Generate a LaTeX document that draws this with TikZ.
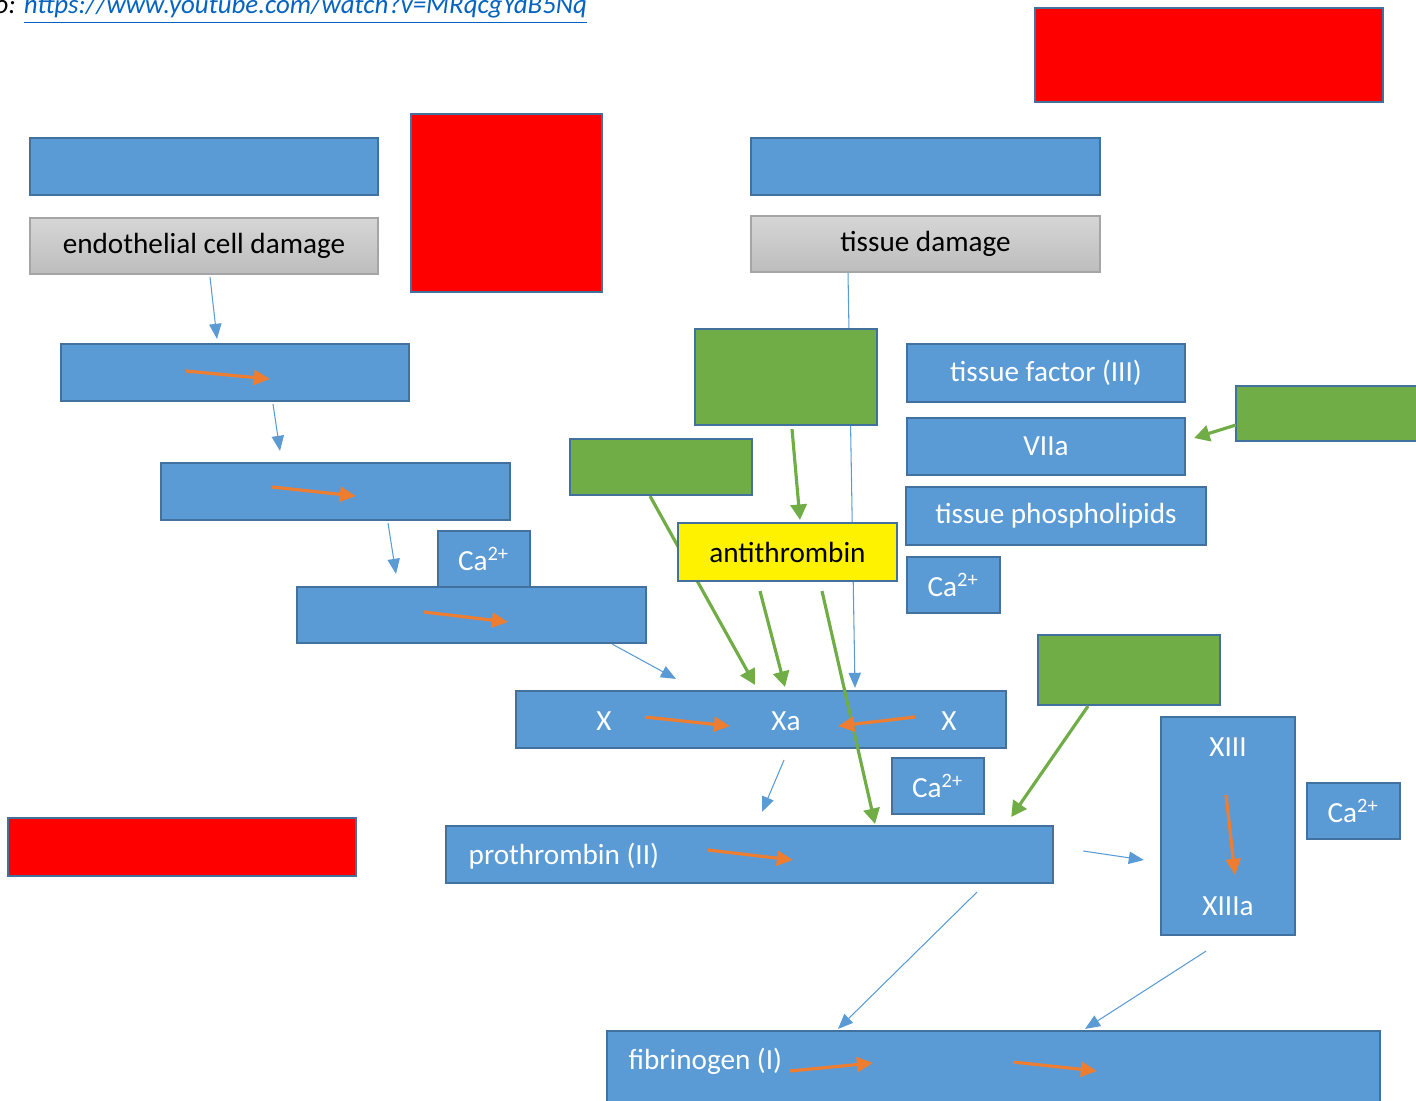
\documentclass[tikz,border=0pt]{standalone}
\usepackage{fontspec}
\setmainfont{Carlito}
\usetikzlibrary{calc}
\usetikzlibrary{arrows.meta}
\usetikzlibrary{backgrounds}

\definecolor{boxblue}{HTML}{5B9BD5}
\definecolor{boxedge}{HTML}{41719C}
\definecolor{leafgreen}{HTML}{70AD47}
\definecolor{arrorange}{HTML}{ED7D31}
\definecolor{linkblue}{HTML}{0563C1}
\definecolor{greyedge}{HTML}{A5A5A5}
\definecolor{greytop}{HTML}{D6D6D6}
\definecolor{greybot}{HTML}{BDBDBD}

\begin{document}
\begin{tikzpicture}[x=0.01cm, y=-0.01cm,
  every node/.style={font=\fontsize{8.3}{10}\selectfont},
  box/.style={draw=boxedge, line width=0.6pt, inner sep=0pt},
  bluebox/.style={box, fill=boxblue, text=white},
  greenbox/.style={box, fill=leafgreen},
  redbox/.style={box, fill=red},
  greybox/.style={draw=greyedge, line width=0.5pt, top color=greytop, bottom color=greybot, inner sep=0pt},
  label/.style={text=white, inner sep=0pt},
  bluearrow/.style={boxblue, line width=0.3pt, -{Triangle[length=4.3pt, width=3.5pt]}},
  greenarrow/.style={leafgreen, line width=0.9pt, -{Triangle[length=4.4pt, width=4.6pt]}},
  orangearrow/.style={arrorange, line width=0.9pt, -{Triangle[length=4.6pt, width=4.2pt]}}]

\useasboundingbox (0,0) rectangle (1416,1100);

\node[anchor=base west, inner sep=0pt, font=\fontsize{7.65}{9}\selectfont\itshape] (video) at (-6,13)
  {o: \textcolor{linkblue}{\underline{https://www.youtube.com/watch?v=MRqcgYdB5Nq}}};

% left column
\node[bluebox, minimum width=3.48cm, minimum height=0.57cm] (topleft) at (204,166.5) {};
\node[greybox, minimum width=3.48cm, minimum height=0.56cm] (endo) at (204,246) {endothelial cell damage};
\node[redbox, minimum width=1.91cm, minimum height=1.78cm] (redsq) at (506.5,203) {};
\node[bluebox, minimum width=3.48cm, minimum height=0.57cm] (stepa) at (235,372.5) {};
\node[bluebox, minimum width=3.49cm, minimum height=0.57cm] (stepb) at (335.5,491.5) {};
\node[bluebox, minimum width=0.92cm, minimum height=0.56cm] (caa) at (484,559) {Ca\textsuperscript{2+}};
\node[bluebox, minimum width=3.49cm, minimum height=0.56cm] (stepc) at (471.5,615) {};
\node[redbox, minimum width=3.48cm, minimum height=0.58cm] (redbl) at (182,847) {};

% right column
\node[redbox, minimum width=3.48cm, minimum height=0.94cm] (redtop) at (1209,55) {};
\node[bluebox, minimum width=3.49cm, minimum height=0.57cm] (topmid) at (925.5,166.5) {};
\node[greybox, minimum width=3.49cm, minimum height=0.56cm] (tissue) at (925.5,244) {tissue damage};
\node[bluebox, minimum width=2.78cm, minimum height=0.58cm] (tf) at (1046,373) {tissue factor (III)};
\node[bluebox, minimum width=2.78cm, minimum height=0.57cm] (viia) at (1046,446.5) {VIIa};
\node[greenbox, minimum width=1.84cm, minimum height=0.55cm] (grright) at (1328,413.5) {};
\node[bluebox, minimum width=3.00cm, minimum height=0.58cm] (phos) at (1056,516) {tissue phospholipids};
\node[bluebox, minimum width=0.93cm, minimum height=0.56cm] (cab) at (953.5,585) {Ca\textsuperscript{2+}};

% inhibitors
\node[greenbox, minimum width=1.82cm, minimum height=0.96cm] (grbig) at (786,377) {};
\node[greenbox, minimum width=1.82cm, minimum height=0.56cm] (grleft) at (661,467) {};
\node[box, fill=yellow, minimum width=2.19cm, minimum height=0.58cm] (anti) at (787.5,552) {antithrombin};
\node[greenbox, minimum width=1.82cm, minimum height=0.70cm] (grmid) at (1129,670) {};

% common pathway
\node[bluebox, minimum width=4.90cm, minimum height=0.57cm] (xrow) at (761,719.5) {};
\node[label] (xl) at (604,721) {X};
\node[label] (xa) at (786,721) {Xa};
\node[label] (xr) at (949,721) {X};
\node[bluebox, minimum width=0.92cm, minimum height=0.56cm] (cac) at (938,786) {Ca\textsuperscript{2+}};
\node[bluebox, minimum width=1.34cm, minimum height=2.18cm] (xiii) at (1228,826) {};
\node[label] (xiiitop) at (1228,747) {XIII};
\node[label] (xiiibot) at (1228,906) {XIIIa};
\node[bluebox, minimum width=0.93cm, minimum height=0.56cm] (cad) at (1353.5,811) {Ca\textsuperscript{2+}};
\node[bluebox, minimum width=6.07cm, minimum height=0.57cm] (pro) at (749.5,854.5) {};
\node[label, anchor=west] (protext) at (468,856) {prothrombin (II)};
\node[bluebox, minimum width=7.73cm, minimum height=0.79cm] (fib) at (993.5,1070.5) {};
\node[label, anchor=west] (fibtext) at (628,1061) {fibrinogen (I)};

% lines hidden behind boxes
\begin{pgfonlayer}{background}
\draw[bluearrow] ($(tissue.south)+(-77.5,0)$) -- ($(xrow.north)+(94,-2)$);
\draw[greenarrow] ($(grleft.south)+(-11,0)$) -- ($(xrow.north)+(-6,-5)$);
\end{pgfonlayer}

\draw[bluearrow] ($(endo.south)+(6,2)$) -- ($(stepa.north)+(-18,-4)$);
\draw[bluearrow] ($(stepa.south)+(38,2)$) -- ($(stepb.north)+(-55.5,-11)$);
\draw[bluearrow] ($(stepb.south)+(52.5,2)$) -- ($(stepc.north)+(-75.5,-12)$);
\draw[bluearrow] ($(stepc.south east)+(-35,0)$) -- ($(xrow.north)+(-85,-11)$);
\draw[bluearrow] ($(xrow.south)+(23,11)$) -- ($(pro.north)+(12.5,-13)$);
\draw[bluearrow] ($(pro.east)+(29,-3.5)$) -- ($(xiii.west)+(-16,34)$);
\draw[bluearrow] ($(pro.south)+(227.5,8)$) -- ($(fib.north)+(-155.5,-1)$);
\draw[bluearrow] ($(xiii.south)+(-22,15)$) -- ($(fib.north)+(91.5,-1)$);

\draw[greenarrow] ($(grbig.south)+(6,3)$) -- ($(anti.north)+(12.5,-2)$);
\draw[greenarrow] ($(anti.south)+(-27.5,9)$) -- ($(xrow.north)+(24,-3)$);
\draw[greenarrow] ($(anti.south)+(34.5,9)$) -- ($(pro.north)+(125.5,-1)$);
\draw[greenarrow] ($(grmid.south)+(-41,0)$) -- ($(pro.north east)+(-43,-8)$);
\draw[greenarrow] ($(grright.west)+(1,11.5)$) -- ($(viia.east)+(8,-8.5)$);

\draw[orangearrow] ($(stepa)+(-49,-1.5)$) -- ($(stepa)+(35,6.5)$);
\draw[orangearrow] ($(stepb)+(-63.5,-4.5)$) -- ($(stepb)+(20.5,4.5)$);
\draw[orangearrow] ($(stepc)+(-47.5,-3)$) -- ($(stepc)+(36.5,7)$);
\draw[orangearrow] ($(xrow)+(-116,-2.5)$) -- ($(xrow)+(-31,6.5)$);
\draw[orangearrow] ($(xrow)+(154,-2.5)$) -- ($(xrow)+(77,6.5)$);
\draw[orangearrow] ($(xiii)+(-2,-31)$) -- ($(xiii)+(7,49)$);
\draw[orangearrow] ($(pro)+(-41.5,-4.5)$) -- ($(pro)+(43.5,5.5)$);
\draw[orangearrow] ($(fib)+(-203.5,0.5)$) -- ($(fib)+(-120.5,-7.5)$);
\draw[orangearrow] ($(fib)+(19.5,-8.5)$) -- ($(fib)+(103.5,0.5)$);

\end{tikzpicture}
\end{document}
